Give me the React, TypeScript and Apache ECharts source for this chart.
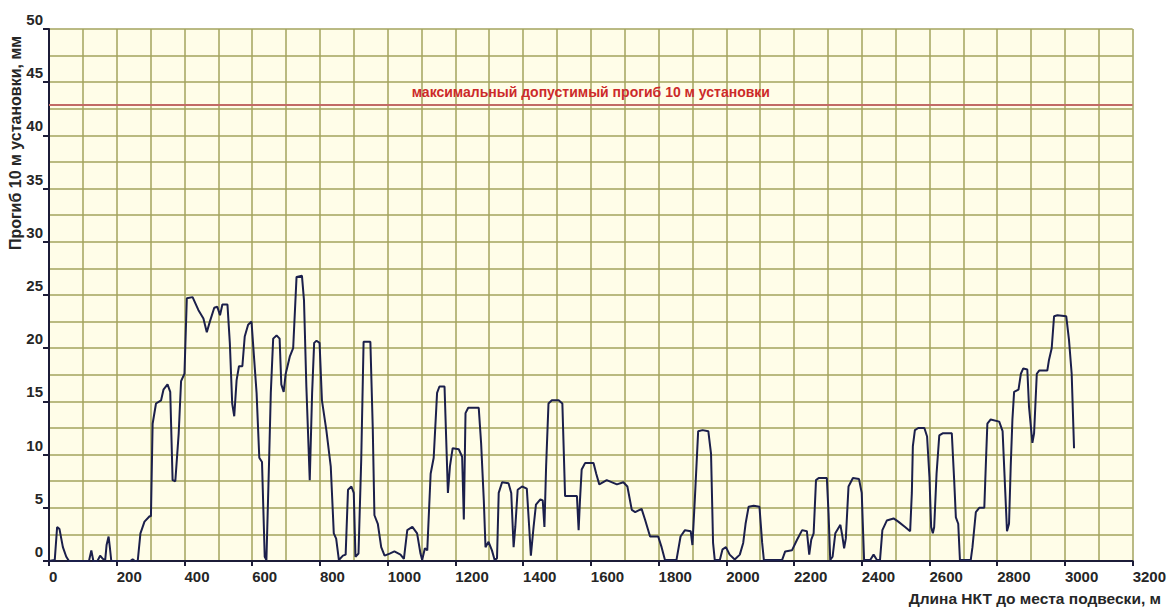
import React, { useEffect, useRef } from "react";
import * as echarts from "echarts";

const lengthM: number[] = [
  0, 17, 24, 31, 41, 51, 59, 118, 125, 131, 143, 151, 159, 166, 170, 176, 180, 184, 240, 247, 254, 262,
  270, 282, 297, 301, 306, 316, 331, 338, 350, 358, 365, 373, 383, 390, 400, 407, 424, 441, 456, 466,
  475, 488, 497, 505, 512, 527, 534, 541, 547, 554, 561, 571, 578, 588, 598, 606, 613, 621, 629, 637,
  642, 650, 655, 662, 672, 681, 686, 693, 699, 711, 721, 731, 747, 753, 760, 770, 777, 783, 790, 799,
  806, 819, 832, 841, 848, 856, 868, 876, 883, 893, 900, 905, 914, 922, 929, 949, 956, 961, 971, 981,
  991, 1006, 1020, 1038, 1048, 1058, 1073, 1087, 1097, 1102, 1110, 1117, 1127, 1136, 1146, 1153, 1168,
  1173, 1178, 1184, 1192, 1210, 1220, 1225, 1230, 1238, 1269, 1276, 1284, 1289, 1298, 1308, 1316, 1323,
  1328, 1338, 1357, 1365, 1372, 1377, 1384, 1397, 1411, 1418, 1423, 1431, 1438, 1451, 1458, 1463, 1468,
  1475, 1485, 1505, 1516, 1524, 1559, 1564, 1568, 1573, 1583, 1608, 1616, 1625, 1647, 1677, 1696, 1708,
  1721, 1731, 1750, 1760, 1775, 1799, 1809, 1819, 1853, 1865, 1878, 1895, 1900, 1907, 1917, 1930, 1947,
  1955, 1961, 1966, 1981, 1989, 1999, 2010, 2025, 2040, 2050, 2057, 2066, 2081, 2098, 2106, 2111, 2165,
  2174, 2194, 2209, 2224, 2238, 2245, 2251, 2258, 2265, 2273, 2297, 2302, 2307, 2314, 2322, 2337, 2343,
  2348, 2353, 2361, 2374, 2392, 2400, 2407, 2425, 2435, 2445, 2454, 2461, 2474, 2494, 2508, 2528, 2543,
  2548, 2551, 2557, 2567, 2585, 2593, 2600, 2605, 2610, 2614, 2621, 2629, 2639, 2666, 2673, 2678, 2685,
  2690, 2722, 2727, 2737, 2747, 2762, 2767, 2771, 2781, 2806, 2816, 2824, 2829, 2835, 2840, 2845, 2850,
  2863, 2870, 2877, 2889, 2894, 2904, 2909, 2917, 2924, 2948, 2953, 2961, 2968, 2978, 3004, 3012, 3020,
  3027,
];

const deflectionMm: number[] = [
  0, 0.1, 3.2, 3.0, 1.3, 0.4, 0, 0, 1.0, 0, 0, 0.5, 0.2, 0.1, 1.5, 2.3, 1.2, 0, 0, 0.15, 0, 0,
  2.6, 3.7, 4.2, 4.2, 12.9, 14.8, 15.1, 16.1, 16.6, 15.9, 7.6, 7.5, 12.0, 16.9, 17.6, 24.7, 24.8, 23.6, 22.8, 21.5,
  22.5, 23.8, 23.9, 23.1, 24.1, 24.1, 20.5, 14.8, 13.6, 17.0, 18.3, 18.3, 21.1, 22.2, 22.5, 18.9, 15.8, 9.7, 9.3, 0.4,
  0.1, 9.5, 15.8, 20.9, 21.2, 20.9, 16.6, 15.9, 17.6, 19.2, 20.0, 26.7, 26.8, 24.5, 16.4, 7.6, 15.8, 20.5, 20.7, 20.5,
  15.1, 12.3, 8.9, 2.6, 2.1, 0.1, 0.5, 0.6, 6.7, 7.0, 6.4, 0.4, 0.7, 9.5, 20.6, 20.6, 12.6, 4.3, 3.5, 1.3,
  0.5, 0.7, 0.9, 0.6, 0.2, 2.9, 3.2, 2.6, 0.7, 0.1, 1.2, 1.0, 8.2, 9.7, 15.8, 16.4, 16.4,
  11.4, 6.4, 8.9, 10.6, 10.5, 9.8, 3.9, 13.9, 14.4, 14.4, 11.1, 5.7, 1.3, 1.8, 1.0, 0.1, 0.25,
  6.4, 7.4, 7.3, 6.4, 1.3, 3.2, 6.7, 7.0, 6.8, 3.2, 0.5, 3.2, 5.3, 5.8, 5.7, 3.2, 8.9,
  14.8, 15.1, 15.1, 14.8, 6.1, 6.1, 2.9, 5.7, 8.6, 9.2, 9.2, 8.2, 7.2, 7.6, 7.2, 7.4, 7.0,
  4.8, 4.6, 4.9, 3.9, 2.3, 2.3, 1.3, 0.1, 0.1, 2.3, 2.9, 2.8, 1.5, 5.7, 12.2, 12.3, 12.2,
  10.1, 1.7, 0.1, 0.1, 1.1, 1.3, 0.6, 0.15, 0.6, 1.7, 3.5, 5.1, 5.2, 5.1, 1.7, 0.1, 0.1,
  0.9, 1.0, 2.0, 2.9, 2.8, 0.6, 2.0, 2.6, 7.6, 7.8, 7.8, 4.5, 0.1, 0.4, 2.6, 3.4, 2.3,
  1.2, 2.1, 7.0, 7.8, 7.7, 6.4, 0.1, 0.1, 0.6, 0.1, 0.1, 2.9, 3.8, 4.0, 3.7, 3.2, 2.8,
  6.4, 10.8, 12.3, 12.5, 12.5, 11.7, 7.9, 3.2, 2.6, 3.2, 8.2, 11.8, 12.0, 12.0, 7.6, 4.1, 3.5,
  0.1, 0.1, 1.3, 4.6, 5.0, 5.0, 9.5, 12.9, 13.3, 13.1, 12.2, 6.4, 2.8, 3.5, 8.9, 13.3, 15.9,
  16.1, 17.6, 18.1, 18.0, 14.5, 11.1, 12.0, 17.6, 17.9, 17.9, 18.9, 20.0, 23.0, 23.1, 23.0, 20.8, 17.6,
  10.6,
];

const limitValue = 42.9;
const limitLabel = "максимальный допустимый прогиб 10 м установки";
const xAxisTitle = "Длина НКТ до места подвески, м";
const yAxisTitle = "Прогиб 10 м установки, мм";

const FONT = "'Liberation Sans', Arial, sans-serif";
const GRID_COLOR = "#A3A35E";
const AXIS_COLOR = "#1C1C38";

export default function App() {
  const ref = useRef<HTMLDivElement>(null);

  useEffect(() => {
    if (!ref.current) return;
    const chart = echarts.init(ref.current, undefined, { renderer: "svg" });
    const data = lengthM.map((x, i) => [x, deflectionMm[i]]);

    chart.setOption({
      animation: false,
      backgroundColor: "#ffffff",
      grid: {
        left: 49,
        top: 29,
        width: 1086,
        height: 532,
        show: true,
        backgroundColor: "#FFFDE8",
        borderWidth: 0,
      },
      xAxis: {
        type: "value",
        min: 0,
        max: 3200,
        interval: 200,
        axisLine: { show: true, onZero: false, lineStyle: { color: AXIS_COLOR, width: 2 } },
        axisTick: { show: true, length: 5, lineStyle: { color: AXIS_COLOR, width: 2 } },
        axisLabel: {
          align: "left",
          margin: 8,
          color: "#262626",
          fontSize: 15,
          fontWeight: "bold",
          fontFamily: FONT,
          formatter: (v: number) => String(v),
        },
        splitLine: { show: true, lineStyle: { color: GRID_COLOR, width: 1.5 } },
        minorTick: { show: false, splitNumber: 2 },
        minorSplitLine: { show: true, lineStyle: { color: GRID_COLOR, width: 1.5 } },
      },
      yAxis: {
        type: "value",
        min: 0,
        max: 50,
        interval: 5,
        axisLine: { show: true, onZero: false, lineStyle: { color: AXIS_COLOR, width: 2 } },
        axisTick: { show: true, length: 6, lineStyle: { color: AXIS_COLOR, width: 2 } },
        axisLabel: {
          margin: 6,
          verticalAlign: "bottom",
          lineHeight: 19,
          color: "#262626",
          fontSize: 15,
          fontWeight: "bold",
          fontFamily: FONT,
          formatter: (v: number) => String(v),
        },
        splitLine: { show: true, lineStyle: { color: GRID_COLOR, width: 1.5 } },
        minorTick: { show: false, splitNumber: 2 },
        minorSplitLine: { show: true, lineStyle: { color: GRID_COLOR, width: 1.5 } },
      },
      graphic: [
        {
          type: "text",
          x: 15,
          y: 143,
          rotation: Math.PI / 2,
          style: {
            text: yAxisTitle,
            fill: "#262626",
            font: `bold 16px ${FONT}`,
            align: "center",
            verticalAlign: "middle",
            textAlign: "center",
            textVerticalAlign: "middle",
          },
        },
        {
          type: "text",
          x: 1161,
          y: 598,
          style: {
            text: xAxisTitle,
            fill: "#262626",
            font: `bold 15.5px ${FONT}`,
            align: "right",
            verticalAlign: "middle",
            textAlign: "right",
            textVerticalAlign: "middle",
          },
        },
      ],
      series: [
        {
          type: "line",
          data,
          showSymbol: false,
          symbol: "none",
          lineStyle: { color: "#1B1F4B", width: 2 },
          z: 5,
          markLine: {
            silent: true,
            symbol: ["none", "none"],
            lineStyle: { color: "#C26A66", width: 2, type: "solid" },
            label: {
              show: true,
              position: "middle",
              distance: 6,
              formatter: limitLabel,
              color: "#CC2A2A",
              fontSize: 14,
              fontWeight: "bold",
              fontFamily: FONT,
            },
            data: [{ yAxis: limitValue }],
          },
        },
      ],
    });

    return () => chart.dispose();
  }, []);

  return (
    <div
      ref={ref}
      style={{ position: "fixed", left: 0, top: 0, width: 1169, height: 607 }}
    />
  );
}
